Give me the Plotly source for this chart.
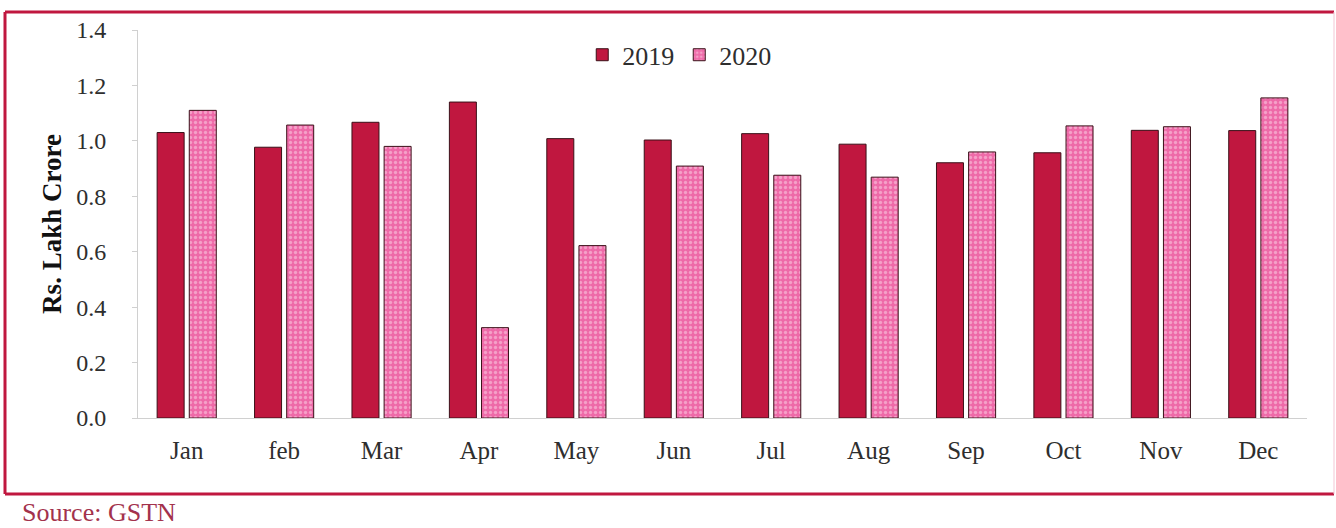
import plotly.graph_objects as go

months = ["Jan", "feb", "Mar", "Apr", "May", "Jun", "Jul", "Aug", "Sep", "Oct", "Nov", "Dec"]
gst_2019 = [1.03, 0.977, 1.067, 1.14, 1.008, 1.003, 1.026, 0.988, 0.921, 0.957, 1.038, 1.037]
gst_2020 = [1.11, 1.057, 0.98, 0.326, 0.622, 0.909, 0.876, 0.869, 0.96, 1.054, 1.051, 1.155]
y_ticks = [0.0, 0.2, 0.4, 0.6, 0.8, 1.0, 1.2, 1.4]

W, H = 1336, 528
L, R, T, B = 138, 29, 30, 110
pw, ph = W - L - R, H - T - B

def px(x):
    return (x - L) / pw

def py(y):
    return (H - B - y) / ph

serif = "Liberation Serif"
crimson = "#c0173f"
text_col = "#2e2e2e"

fig = go.Figure()
fig.add_trace(go.Bar(
    x=months, y=gst_2019, name="2019",
    marker=dict(color=crimson, line=dict(color="#3a1018", width=1)),
))
fig.add_trace(go.Bar(
    x=months, y=gst_2020, name="2020",
    marker=dict(
        color="#ee6aa8",
        line=dict(color="#3a1018", width=1),
        pattern=dict(shape=".", fgcolor="#fcd6e8", bgcolor="#ee6aa8", size=5, solidity=0.35),
    ),
))

# frame around the chart
frame = [
    (5, 12, 1334, 12, crimson, 3),
    (5, 12, 5, 494, crimson, 3),
    (5, 494, 1334, 494, crimson, 3),
    (1334, 12, 1334, 494, "#f3c6d3", 1),
]
shapes = [
    dict(type="line", xref="paper", yref="paper",
         x0=px(a), y0=py(b), x1=px(c), y1=py(d),
         line=dict(color=col, width=w))
    for a, b, c, d, col, w in frame
]

fig.update_layout(
    width=W, height=H,
    margin=dict(l=L, r=R, t=T, b=B),
    paper_bgcolor="white", plot_bgcolor="white",
    barmode="group", bargap=0.34, bargroupgap=0.16,
    font=dict(family=serif, size=24, color=text_col),
    showlegend=True,
    legend=dict(
        orientation="h", x=0.463, y=0.936, xanchor="center", yanchor="middle",
        font=dict(family=serif, size=26, color=text_col),
        itemwidth=30, traceorder="normal", bgcolor="rgba(0,0,0,0)",
        tracegroupgap=0,
    ),
    xaxis=dict(
        range=[-0.5, 11.5], showgrid=False, showline=True, linecolor="#d0d0d0",
        linewidth=1, ticks="", tickfont=dict(family=serif, size=25, color=text_col),
        ticklabelstandoff=10,
    ),
    yaxis=dict(
        range=[0, 1.4], tickvals=y_ticks, ticktext=[f"{v:.1f}" for v in y_ticks],
        showgrid=False, showline=True, linecolor="#d0d0d0", linewidth=1,
        ticks="outside", ticklen=5, tickcolor="#d0d0d0", zeroline=False,
        tickfont=dict(family=serif, size=24, color=text_col),
        ticklabelstandoff=21,
        title=dict(text="<b>Rs. Lakh Crore</b>", standoff=6,
                   font=dict(family=serif, size=27, color="#111111")),
    ),
    shapes=shapes,
    annotations=[dict(
        text="Source: GSTN", xref="paper", yref="paper",
        x=px(20), y=py(512), xanchor="left", yanchor="middle", showarrow=False,
        font=dict(family=serif, size=26, color="#a3324c"),
    )],
)

fig.write_html("out.html")
